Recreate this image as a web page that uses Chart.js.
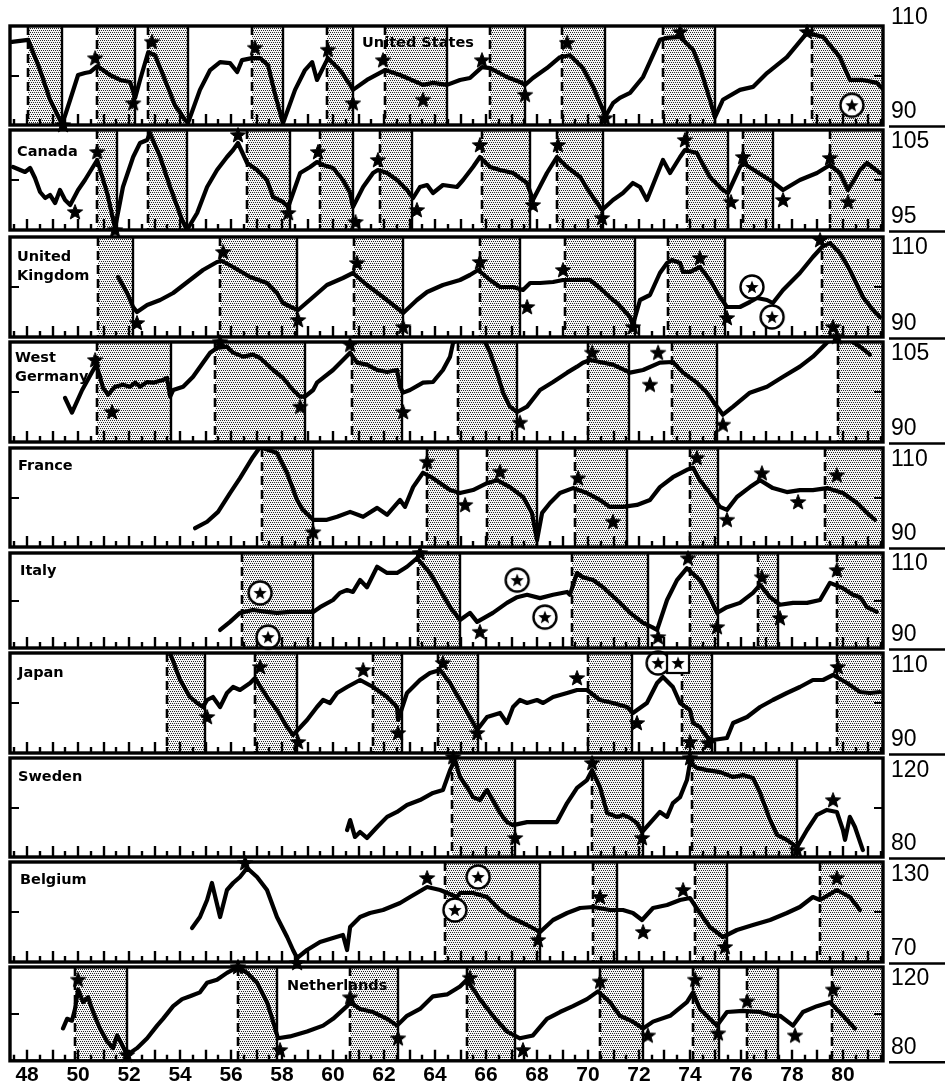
<!DOCTYPE html>
<html><head><meta charset="utf-8">
<script src="https://cdn.jsdelivr.net/npm/chart.js@4.4.1/dist/chart.umd.min.js"></script>
<style>
html,body{margin:0;padding:0;background:#fff;overflow:hidden;width:945px;height:1088px;position:relative}
canvas{position:absolute;left:0}
</style></head><body>
<script>
// ---------------- DATA (year, index value) ----------------
const yearRange = [47.33, 81.57];
const yearStep = 2;

const usRange = [90, 110];
const usLine = [[47.41,106.8],[48.04,107.2],[48.51,101.1],[48.90,95.1],[49.29,91.0],[49.37,90.0],[49.69,95.1],[50.00,100.1],[50.27,100.5],[50.47,100.7],[50.75,101.9],[51.25,100.1],[51.65,99.1],[52.04,98.7],[52.24,95.5],[52.43,99.1],[52.75,104.7],[53.02,104.1],[53.41,99.1],[53.80,94.0],[54.20,91.0],[54.31,90.4],[54.78,97.1],[55.18,101.1],[55.57,102.7],[55.96,102.5],[56.24,100.7],[56.43,103.1],[56.82,103.5],[57.14,103.5],[57.45,102.1],[57.73,96.1],[58.00,91.0],[58.04,90.4],[58.51,97.1],[58.90,101.1],[59.18,102.7],[59.37,99.1],[59.80,103.5],[60.27,101.1],[60.67,98.1],[60.78,97.1],[61.33,99.1],[62.04,101.1],[62.63,100.1],[63.53,98.1],[63.92,98.5],[64.47,98.1],[64.98,99.1],[65.37,99.5],[65.84,101.7],[66.16,101.5],[66.82,99.7],[67.33,98.7],[67.53,98.1],[67.84,99.5],[68.39,101.5],[68.90,103.7],[69.29,104.1],[69.80,101.5],[70.20,97.7],[70.59,93.0],[70.67,91.6],[70.98,94.4],[71.25,95.5],[71.65,96.5],[72.16,99.7],[72.82,107.2],[73.10,107.6],[73.61,107.8],[74.12,105.2],[74.39,101.7],[74.78,95.1],[74.98,91.6],[75.29,95.1],[75.96,97.1],[76.47,97.7],[77.02,100.5],[77.80,103.7],[78.59,108.6],[79.22,107.8],[79.88,103.7],[80.27,99.1],[80.78,99.1],[81.33,98.5],[81.53,97.5]];
const usStars = [[50.67,103.5],[49.41,90.0],[52.16,94.4],[52.90,106.8],[56.94,105.6],[59.80,105.2],[60.78,94.4],[61.96,103.1],[63.53,95.1],[65.84,103.1],[67.53,96.1],[69.18,106.6],[70.67,91.4],[73.61,108.8],[78.59,108.8]];
const usRings = [[80.35,94.0]];
const usShade = [[48.04,49.37],[50.75,52.24],[52.75,54.31],[56.82,58.04],[59.76,60.78],[62.04,64.47],[66.16,67.53],[68.98,70.67],[72.94,74.98],[78.78,82]];

const caRange = [95, 105];
const caLine = [[47.45,101.3],[47.92,100.8],[48.12,101.2],[48.31,100.2],[48.51,98.8],[48.71,98.2],[48.90,98.5],[49.10,97.7],[49.29,99.0],[49.49,98.0],[49.69,97.5],[50.00,99.0],[50.27,100.0],[50.75,102.0],[51.14,98.7],[51.45,95.2],[51.76,99.3],[52.16,102.3],[52.43,103.7],[52.71,104.0],[52.82,104.7],[53.22,102.3],[53.61,99.3],[54.08,96.0],[54.27,95.0],[54.67,96.7],[55.06,99.3],[55.45,101.0],[55.84,102.3],[56.08,103.0],[56.27,103.7],[56.63,101.7],[57.02,101.0],[57.41,100.0],[57.65,98.3],[58.04,97.8],[58.24,97.3],[58.71,100.7],[59.10,101.3],[59.37,101.8],[59.61,101.5],[60.00,101.2],[60.39,100.0],[60.67,98.7],[60.78,97.3],[61.18,99.3],[61.57,100.7],[61.76,101.0],[62.12,100.7],[62.51,100.0],[62.90,99.0],[63.14,98.2],[63.41,99.3],[63.69,99.5],[63.92,98.7],[64.31,99.5],[64.86,99.3],[65.10,100.0],[65.49,101.3],[65.76,102.3],[66.16,101.3],[66.55,101.0],[67.06,100.7],[67.61,99.7],[67.84,98.0],[68.39,100.7],[68.78,102.3],[69.18,101.3],[69.69,100.3],[70.08,98.7],[70.55,97.0],[70.98,98.0],[71.37,98.7],[71.76,99.7],[72.04,99.3],[72.31,98.0],[72.94,102.0],[73.22,100.7],[73.61,102.3],[73.80,103.0],[74.27,102.7],[74.78,100.3],[75.29,99.0],[75.49,98.7],[75.96,101.3],[76.08,101.7],[76.63,100.8],[77.25,99.8],[77.65,99.0],[78.31,100.0],[78.98,100.7],[79.49,101.5],[79.88,100.7],[80.20,99.0],[80.67,101.0],[80.94,101.7],[81.45,100.7]];
const caStars = [[49.88,96.8],[50.75,102.8],[51.45,95.0],[52.82,106.2],[54.27,93.5],[56.27,104.5],[58.24,96.7],[59.41,102.8],[60.88,95.8],[61.76,102.0],[63.29,97.0],[65.76,103.5],[67.84,97.5],[68.82,103.5],[70.55,96.2],[73.80,104.0],[75.61,97.8],[76.08,102.3],[77.65,98.0],[79.49,102.2],[80.20,97.8]];
const caShade = [[50.75,51.53],[52.75,54.27],[56.63,58.31],[59.49,60.78],[61.84,63.10],[65.84,67.73],[68.78,70.59],[73.88,75.49],[76.08,77.25],[79.49,82]];

const ukRange = [90, 110];
const ukLine = [[51.57,102.0],[51.92,98.8],[52.16,96.0],[52.31,95.0],[52.71,96.4],[53.22,97.4],[53.73,98.8],[54.39,101.4],[54.90,103.4],[55.45,105.0],[55.65,105.2],[56.08,104.0],[56.75,102.0],[57.41,100.8],[57.80,98.8],[58.04,96.8],[58.43,95.8],[58.63,95.4],[59.22,98.0],[59.76,100.4],[60.39,101.8],[60.78,102.8],[61.33,100.4],[61.96,98.0],[62.51,95.8],[62.75,94.8],[63.29,97.4],[63.69,99.0],[64.31,100.4],[64.98,101.4],[65.37,102.4],[65.69,103.4],[66.16,101.4],[66.55,100.0],[67.06,100.0],[67.45,99.4],[67.73,100.8],[68.12,100.8],[68.63,101.0],[69.02,101.4],[69.57,101.4],[70.08,101.4],[70.47,99.8],[70.98,97.4],[71.14,96.8],[71.65,94.0],[71.76,92.4],[72.04,97.4],[72.43,98.4],[72.82,102.8],[73.10,104.8],[73.29,105.4],[73.61,104.8],[73.73,103.0],[74.00,103.0],[74.39,104.0],[74.78,101.4],[75.18,98.0],[75.45,96.0],[75.96,96.0],[76.35,97.0],[76.63,97.8],[77.02,97.4],[77.25,96.8],[77.65,99.4],[78.31,102.8],[78.82,106.0],[79.18,108.0],[79.49,108.8],[79.88,106.8],[80.27,103.4],[80.78,98.0],[81.18,95.4],[81.45,94.0]];
const ukStars = [[52.31,92.8],[55.69,107.0],[58.63,93.4],[60.94,104.8],[62.75,92.0],[65.76,105.0],[67.61,96.0],[69.02,103.4],[71.76,92.0],[74.39,105.8],[75.45,93.8],[79.10,109.4],[79.61,92.0]];
const ukRings = [[76.43,100.0],[77.22,94.0]];
const ukShade = [[50.78,52.16],[55.57,58.59],[60.82,62.75],[65.76,67.33],[69.10,71.84],[73.14,75.37],[79.18,82]];

const deRange = [90, 105];
const deLine = [[49.49,96.6],[49.76,94.4],[50.16,97.8],[50.55,100.5],[50.71,101.6],[50.86,99.8],[50.98,98.1],[51.18,97.1],[51.45,98.3],[51.76,98.6],[52.04,98.3],[52.24,98.9],[52.43,98.3],[52.71,99.0],[52.94,98.9],[53.33,99.3],[53.49,99.6],[53.61,96.8],[53.73,97.8],[54.12,98.3],[54.51,99.8],[54.90,101.9],[55.18,103.4],[55.45,104.1],[55.84,104.3],[56.08,103.4],[56.47,102.8],[56.86,103.1],[57.14,102.6],[57.65,100.8],[58.04,99.6],[58.43,97.8],[58.71,96.8],[58.90,96.8],[59.22,97.8],[59.37,98.9],[60.00,100.8],[60.39,102.3],[60.67,103.4],[60.94,101.9],[61.33,101.6],[61.73,100.8],[62.12,100.5],[62.51,100.8],[62.63,98.3],[62.75,97.4],[63.02,97.8],[63.53,98.9],[63.92,99.0],[64.31,100.8],[64.59,102.8],[64.71,104.9],[64.86,105.3],[65.37,105.6],[65.88,105.6],[66.16,103.4],[66.43,100.4],[66.67,97.4],[66.94,95.3],[67.22,94.5],[67.61,95.3],[68.12,97.8],[68.63,99.0],[69.18,100.4],[69.57,101.3],[69.80,101.9],[70.08,102.3],[70.47,102.0],[70.98,101.6],[71.65,100.4],[72.16,100.8],[72.82,101.9],[73.33,102.0],[73.73,100.4],[74.27,98.9],[74.67,97.4],[75.06,95.3],[75.29,94.1],[75.69,95.3],[76.35,97.4],[77.02,98.3],[77.65,99.8],[78.31,101.3],[78.82,102.8],[79.37,104.9],[79.61,105.6],[80.27,105.3],[80.67,104.3],[81.06,103.1]];
const deStars = [[50.67,102.3],[51.33,94.5],[55.57,105.0],[58.71,95.3],[60.67,104.6],[62.75,94.5],[64.78,107.25],[67.33,92.9],[70.16,103.4],[72.43,98.6],[72.75,103.4],[75.29,92.6],[79.76,105.8]];
const deShade = [[50.75,53.65],[55.37,58.90],[60.75,62.71],[64.90,67.22],[70.00,71.61],[73.29,75.06],[79.80,82]];

const frRange = [90, 110];
const frLine = [[54.59,93.8],[55.06,95.1],[55.49,97.1],[55.96,100.9],[56.35,103.9],[56.86,108.2],[57.14,110.2],[57.80,109.0],[58.20,104.9],[58.59,99.5],[58.82,97.5],[59.22,95.5],[59.76,95.5],[60.16,96.1],[60.67,97.1],[61.18,96.1],[61.73,97.9],[62.12,96.5],[62.63,99.5],[62.82,98.1],[63.14,102.1],[63.53,105.0],[63.92,103.9],[64.59,101.5],[64.98,100.9],[65.49,101.5],[66.04,102.9],[66.43,103.5],[66.94,102.1],[67.45,100.1],[67.80,96.9],[68.00,91.4],[68.20,96.9],[68.51,98.9],[68.90,100.9],[69.41,101.9],[69.96,100.9],[70.47,99.5],[70.86,98.1],[71.37,98.1],[71.92,98.5],[72.43,99.5],[72.82,102.1],[73.33,104.1],[73.88,105.6],[74.12,106.0],[74.39,103.5],[74.78,100.9],[75.18,98.1],[75.45,97.5],[75.84,100.1],[76.35,102.1],[76.75,103.5],[77.25,101.9],[77.80,101.1],[78.31,101.5],[78.82,101.5],[79.37,101.9],[80.00,100.9],[80.55,98.9],[80.94,96.9],[81.25,95.5]];
const frStars = [[57.14,111.8],[59.22,93.0],[63.69,107.2],[65.18,98.5],[66.55,105.2],[68.00,88.0],[69.61,103.9],[70.98,95.1],[74.27,108.0],[75.45,95.5],[76.82,104.9],[78.24,99.1],[79.76,104.5]];
const frShade = [[57.22,59.22],[63.69,64.90],[66.04,68.00],[69.49,71.53],[74.00,75.10],[79.29,82]];

const itRange = [90, 110];
const itLine = [[55.57,93.8],[55.96,95.5],[56.35,97.4],[56.86,98.0],[57.41,97.6],[57.80,97.4],[58.31,97.6],[59.22,97.6],[59.49,98.6],[60.00,100.1],[60.27,101.6],[60.55,102.2],[60.78,101.8],[61.06,104.3],[61.33,102.8],[61.73,107.1],[62.12,105.8],[62.51,105.8],[62.90,107.1],[63.29,108.9],[63.80,105.8],[64.20,102.2],[64.59,98.6],[64.98,95.9],[65.37,97.4],[65.65,95.5],[66.27,97.4],[66.82,99.5],[67.22,100.7],[67.61,101.2],[68.12,100.5],[68.63,101.2],[69.18,101.8],[69.29,101.2],[69.57,105.8],[69.80,104.9],[70.20,104.3],[70.59,102.8],[71.14,100.1],[71.65,97.4],[72.16,95.3],[72.51,94.4],[72.71,93.8],[73.10,100.1],[73.49,104.3],[73.88,106.8],[74.39,104.3],[74.78,100.7],[75.06,97.4],[75.45,98.6],[75.96,99.5],[76.47,101.6],[76.75,103.3],[77.14,100.7],[77.53,99.1],[78.04,99.5],[78.59,99.5],[79.10,100.1],[79.49,103.7],[80.00,102.6],[80.39,101.2],[80.67,100.7],[80.94,98.6],[81.33,97.6]];
const itStars = [[63.41,110.0],[65.76,93.4],[72.75,92.3],[73.92,108.9],[75.06,94.4],[76.82,104.9],[77.53,96.3],[79.76,106.4]];
const itRings = [[57.14,101.6],[57.45,92.3],[67.22,104.3],[68.31,96.5]];
const itShade = [[56.43,59.22],[63.33,64.98],[69.37,72.35],[74.00,75.10],[76.67,77.45],[79.76,82]];

const jpRange = [90, 110];
const jpLine = [[53.61,110.0],[54.00,104.6],[54.39,101.2],[54.67,100.0],[54.90,99.2],[55.06,100.6],[55.29,101.2],[55.57,99.2],[55.84,102.0],[56.08,103.2],[56.35,102.6],[56.75,104.0],[56.94,105.0],[57.41,101.2],[57.80,98.6],[58.20,95.2],[58.43,93.6],[58.98,96.6],[59.37,99.2],[59.61,100.6],[59.88,100.0],[60.16,102.0],[60.55,103.2],[61.06,104.6],[61.57,103.2],[62.12,101.2],[62.51,99.2],[62.55,96.6],[62.90,102.0],[63.41,104.6],[63.80,106.0],[64.20,106.6],[64.59,104.0],[64.98,100.6],[65.37,97.2],[65.65,94.6],[66.04,97.2],[66.55,98.0],[66.82,96.0],[67.06,99.2],[67.33,100.6],[67.61,100.0],[68.00,100.6],[68.24,100.0],[68.63,101.2],[69.18,102.0],[69.57,102.6],[69.96,102.6],[70.47,100.6],[70.98,100.0],[71.53,99.2],[71.76,98.0],[72.31,100.0],[72.71,104.0],[72.94,105.2],[73.33,103.2],[73.61,100.0],[74.00,98.6],[74.12,96.0],[74.39,95.2],[74.67,93.2],[74.90,92.6],[75.45,93.0],[75.69,96.0],[76.24,97.2],[76.75,99.2],[77.25,100.6],[77.80,102.0],[78.31,103.2],[78.82,104.6],[79.22,104.6],[79.61,105.6],[80.16,104.0],[80.67,102.2],[81.06,102.0],[81.45,102.2]];
const jpStars = [[55.06,97.2],[57.14,107.2],[58.63,92.2],[61.18,106.6],[62.55,94.0],[64.31,108.0],[65.65,94.0],[69.57,105.0],[71.92,96.0],[74.00,92.2],[74.71,92.0],[79.80,107.2]];
const jpRings = [[72.75,108.0]];
const jpBoxes = [[73.53,108.0]];
const jpShade = [[53.49,54.98],[56.94,58.59],[61.57,62.71],[64.12,65.69],[70.00,71.73],[73.69,74.86],[79.76,82]];

const seRange = [80, 120];
const seLine = [[60.55,90.9],[60.67,94.9],[60.86,88.1],[61.06,90.1],[61.33,87.7],[61.73,92.1],[62.12,96.2],[62.51,98.2],[62.90,101.0],[63.41,103.0],[63.92,105.9],[64.31,107.1],[64.59,115.1],[64.78,119.2],[64.98,112.3],[65.25,108.3],[65.49,104.2],[65.76,103.0],[66.04,107.1],[66.27,103.0],[66.55,97.8],[66.82,94.1],[67.06,92.9],[67.61,94.1],[68.78,94.1],[69.18,101.8],[69.57,107.9],[69.96,111.1],[70.16,115.1],[70.47,108.3],[70.75,97.8],[71.14,96.2],[71.37,97.0],[71.65,95.8],[71.92,93.7],[72.12,90.1],[72.43,93.7],[72.82,98.2],[73.10,96.2],[73.33,101.8],[73.61,104.2],[73.88,111.1],[74.00,118.0],[74.27,116.0],[74.67,115.1],[75.18,114.3],[75.69,112.3],[76.08,113.1],[76.47,111.9],[76.75,105.9],[77.14,95.0],[77.41,88.9],[77.80,86.9],[78.20,84.0],[78.59,90.9],[78.98,97.0],[79.37,99.0],[79.76,98.2],[80.00,90.9],[80.08,86.9],[80.27,96.2],[80.47,92.1],[80.78,82.8]];
const seStars = [[64.71,120.4],[67.14,87.7],[70.16,118.0],[72.12,87.7],[74.00,120.0],[78.20,82.8],[79.61,103.0]];
const seShade = [[64.67,67.14],[70.16,72.16],[74.08,78.20]];

const beRange = [70, 130];
const beLine = [[54.47,90.4],[54.78,97.0],[55.06,107.2],[55.25,117.4],[55.57,97.0],[55.84,113.2],[56.08,117.4],[56.35,121.0],[56.63,126.4],[57.02,121.0],[57.41,113.2],[57.80,97.0],[58.20,85.0],[58.43,77.2],[58.59,72.4],[58.98,77.2],[59.49,82.0],[60.00,84.4],[60.39,86.2],[60.55,77.2],[60.67,91.0],[61.06,97.0],[61.45,99.4],[61.96,101.2],[62.63,105.4],[63.02,109.0],[63.69,115.0],[64.20,113.2],[64.86,109.0],[64.98,111.4],[65.49,111.4],[66.04,109.0],[66.55,101.2],[66.94,97.0],[67.61,92.2],[68.12,88.0],[68.63,95.2],[69.18,99.4],[69.69,102.4],[70.20,103.0],[70.86,101.2],[71.37,101.2],[71.76,99.4],[72.12,95.2],[72.55,102.4],[73.10,104.2],[73.61,107.2],[74.00,108.4],[74.39,99.4],[74.78,91.0],[75.29,85.0],[75.84,89.2],[76.47,92.2],[77.14,95.2],[77.80,99.4],[78.31,103.0],[78.82,109.0],[79.10,107.2],[79.76,113.2],[80.27,109.0],[80.67,101.2]];
const beStars = [[56.55,129.4],[58.59,69.4],[63.69,120.4],[68.04,83.2],[70.47,109.0],[72.16,88.0],[73.73,113.2],[75.37,79.0],[79.76,120.4]];
const beRings = [[64.78,101.2],[65.69,121.0]];
const beShade = [[64.39,68.12],[70.20,71.14],[74.20,75.45],[79.10,82]];

const nlRange = [80, 120];
const nlLine = [[49.41,93.8],[49.57,97.9],[49.76,97.1],[49.88,102.1],[50.00,110.4],[50.20,105.0],[50.39,107.1],[50.59,100.8],[50.86,93.8],[51.14,88.3],[51.37,85.4],[51.53,90.8],[51.73,86.7],[51.92,82.5],[52.31,85.4],[52.71,89.6],[53.10,95.0],[53.33,97.9],[53.73,103.3],[54.08,106.3],[54.39,107.5],[54.78,109.2],[55.06,113.3],[55.45,114.6],[55.84,117.5],[56.27,120.0],[56.63,117.5],[57.02,113.3],[57.41,105.0],[57.65,96.7],[57.84,89.6],[58.31,90.4],[58.98,92.5],[59.61,95.0],[60.00,97.9],[60.55,103.3],[60.67,105.0],[61.06,102.1],[61.57,100.8],[62.12,97.9],[62.51,95.0],[62.90,99.2],[63.41,102.1],[63.92,107.5],[64.47,108.3],[64.98,111.7],[65.25,114.6],[65.76,106.3],[66.27,99.2],[66.82,92.5],[67.33,89.6],[67.84,90.8],[68.39,97.9],[68.90,100.8],[69.41,103.3],[69.96,106.3],[70.39,109.6],[70.86,105.0],[71.25,99.2],[71.76,96.7],[72.16,93.8],[72.55,96.7],[73.22,99.2],[73.88,105.0],[74.12,109.2],[74.39,102.1],[74.78,97.9],[75.06,95.0],[75.45,100.8],[76.08,101.3],[76.75,100.8],[77.25,99.2],[77.53,99.2],[78.04,95.0],[78.43,100.8],[78.98,103.3],[79.49,105.0],[80.00,99.2],[80.47,93.8]];
const nlStars = [[50.00,114.6],[51.92,82.5],[56.27,120.0],[57.92,84.6],[60.67,107.1],[62.55,89.6],[65.37,115.4],[67.45,84.6],[70.47,113.8],[72.35,90.8],[74.20,114.6],[75.10,91.7],[76.24,105.4],[78.12,90.8],[79.61,110.4]];
const nlShade = [[49.88,51.92],[56.27,57.80],[60.67,62.55],[65.25,67.14],[70.47,72.16],[74.12,75.14],[76.24,77.45],[79.57,82]];

// ---------------- LAYOUT / STYLE ----------------
const PAD = 22;
const panels = [
  {label:['United States'], lx:418, ly:43, align:'center', top:26, bottom:125, topLab:-8, range:usRange, line:usLine, stars:usStars, rings:usRings, boxes:[], shade:usShade},
  {label:['Canada'], lx:17, ly:152, align:'left', top:130, bottom:230, topLab:12, range:caRange, line:caLine, stars:caStars, rings:[], boxes:[], shade:caShade},
  {label:['United','Kingdom'], lx:17, ly:257, align:'left', top:237, bottom:337, topLab:11, range:ukRange, line:ukLine, stars:ukStars, rings:ukRings, boxes:[], shade:ukShade},
  {label:['West','Germany'], lx:15, ly:358, align:'left', top:342, bottom:442, topLab:12, range:deRange, line:deLine, stars:deStars, rings:[], boxes:[], shade:deShade},
  {label:['France'], lx:18, ly:466, align:'left', top:448, bottom:547, topLab:12, range:frRange, line:frLine, stars:frStars, rings:[], boxes:[], shade:frShade},
  {label:['Italy'], lx:20, ly:571, align:'left', top:553, bottom:648, topLab:11, range:itRange, line:itLine, stars:itStars, rings:itRings, boxes:[], shade:itShade},
  {label:['Japan'], lx:18, ly:673, align:'left', top:653, bottom:753, topLab:13, range:jpRange, line:jpLine, stars:jpStars, rings:jpRings, boxes:jpBoxes, shade:jpShade},
  {label:['Sweden'], lx:18, ly:777, align:'left', top:758, bottom:857, topLab:13, range:seRange, line:seLine, stars:seStars, rings:[], boxes:[], shade:seShade},
  {label:['Belgium'], lx:20, ly:880, align:'left', top:862, bottom:962, topLab:13, range:beRange, line:beLine, stars:beStars, rings:beRings, boxes:[], shade:beShade},
  {label:['Netherlands'], lx:287, ly:986, align:'left', top:967, bottom:1063, topLab:12, range:nlRange, line:nlLine, stars:nlStars, rings:[], boxes:[], shade:nlShade}
];

// ---------------- GRAPHIC HELPERS ----------------
function starPath(ctx, cx, cy, R, r){
  ctx.beginPath();
  for(let i=0;i<10;i++){
    const a=-Math.PI/2+i*Math.PI/5, rad=(i%2)?r:R;
    ctx.lineTo(cx+rad*Math.cos(a), cy+rad*Math.sin(a));
  }
  ctx.closePath();
}
function mk(w,h,fn){const c=document.createElement('canvas');c.width=w;c.height=h;fn(c.getContext('2d'));return c;}
const starImg = mk(18,18,c=>{starPath(c,9,9.5,8,3.4);c.fillStyle='#000';c.fill();c.lineWidth=1;c.strokeStyle='#000';c.stroke();});
const ringImg = mk(28,28,c=>{c.beginPath();c.arc(14,14,11.5,0,Math.PI*2);c.fillStyle='#fff';c.fill();c.lineWidth=2.4;c.strokeStyle='#000';c.stroke();starPath(c,14,14.5,7,3);c.fillStyle='#000';c.fill();});
const boxImg = mk(26,24,c=>{c.fillStyle='#fff';c.fillRect(2,2,22,20);c.lineWidth=2.2;c.strokeStyle='#000';c.strokeRect(2,2,22,20);starPath(c,13,12.5,7,3);c.fillStyle='#000';c.fill();});
const tile = mk(4,4,c=>{c.fillStyle='#f6f6f6';c.fillRect(0,0,4,4);c.fillStyle='#2a2a2a';[[0,0],[2,0],[1,2],[3,2]].forEach(([x,y])=>c.fillRect(x,y,1,1));});

function makePlugin(p){
  return {
    id:'panel',
    beforeDatasetsDraw(chart){
      const {ctx, chartArea:a, scales:{x,y}} = chart;
      ctx.save();
      ctx.beginPath(); ctx.rect(a.left,a.top,a.right-a.left,a.bottom-a.top); ctx.clip();
      ctx.fillStyle = ctx.createPattern(tile,'repeat');
      p.shade.forEach(([s,e])=>{const x1=x.getPixelForValue(s),x2=x.getPixelForValue(e);ctx.fillRect(x1,a.top,x2-x1,a.bottom-a.top);});
      ctx.strokeStyle='#000'; ctx.lineWidth=2.6;
      p.shade.forEach(([s,e])=>{
        const x1=Math.round(x.getPixelForValue(s));
        ctx.setLineDash([9,5]); ctx.beginPath(); ctx.moveTo(x1,a.top); ctx.lineTo(x1,a.bottom); ctx.stroke();
        if(e<x.max){const x2=Math.round(x.getPixelForValue(e)); ctx.setLineDash([]); ctx.lineWidth=2.4; ctx.beginPath(); ctx.moveTo(x2,a.top); ctx.lineTo(x2,a.bottom); ctx.stroke(); ctx.lineWidth=2.6;}
      });
      ctx.setLineDash([]); ctx.lineWidth=2.4;
      for(let t=47.5;t<x.max;t+=0.5){
        const px=Math.round(x.getPixelForValue(t)), h=Number.isInteger(t)?11:6;
        ctx.beginPath(); ctx.moveTo(px,a.bottom); ctx.lineTo(px,a.bottom-h); ctx.stroke();
      }
      ctx.restore();
    },
    afterDatasetsDraw(chart){
      const {ctx, chartArea:a, scales:{y}} = chart;
      ctx.save();
      ctx.strokeStyle='#000'; ctx.lineWidth=3.4;
      ctx.strokeRect(a.left,a.top,a.right-a.left,a.bottom-a.top);
      const ym=Math.round(y.getPixelForValue((p.range[0]+p.range[1])/2));
      ctx.lineWidth=2.2;
      ctx.beginPath(); ctx.moveTo(a.left,ym); ctx.lineTo(a.left+9,ym); ctx.moveTo(a.right-9,ym); ctx.lineTo(a.right,ym); ctx.stroke();
      // right value labels
      ctx.fillStyle='#000'; ctx.font='23px "Liberation Sans", Arial, sans-serif'; ctx.textAlign='left'; ctx.textBaseline='middle';
      ctx.fillText(String(p.range[1]), 891, y.getPixelForValue(p.range[1])+p.topLab);
      ctx.fillText(String(p.range[0]), 891, y.getPixelForValue(p.range[0])-13);
      ctx.lineWidth=2.4;
      ctx.beginPath(); ctx.moveTo(889,a.bottom+1.5); ctx.lineTo(945,a.bottom+1.5); ctx.stroke();
      // country label
      ctx.font='bold 14.5px "DejaVu Sans", Arial, sans-serif'; ctx.textAlign=p.align;
      p.label.forEach((s,i)=>ctx.fillText(s, p.lx, a.top+(p.ly-p.top)+i*19));
      ctx.restore();
    }
  };
}

const pts = arr => arr.map(([x,y])=>({x,y}));

panels.forEach((p,i)=>{
  const last = i===panels.length-1;
  const cv=document.createElement('canvas');
  const top=p.top-PAD;
  const h= last ? 145 : (p.bottom-p.top+2*PAD);
  cv.width=945; cv.height=h; cv.style.top=top+'px'; cv.style.width='945px'; cv.style.height=h+'px';
  document.body.appendChild(cv);
  new Chart(cv,{
    type:'line',
    data:{datasets:[
      {type:'scatter', data:pts(p.boxes), pointStyle:boxImg, pointRadius:8, clip:false, order:0},
      {type:'scatter', data:pts(p.rings), pointStyle:ringImg, pointRadius:8, clip:false, order:0},
      {type:'scatter', data:pts(p.stars), pointStyle:starImg, pointRadius:7, clip:false, order:0},
      {type:'line', data:pts(p.line), borderColor:'#000', borderWidth:4.2, pointRadius:0, tension:0, borderJoinStyle:'round', borderCapStyle:'round', order:1}
    ]},
    options:{
      responsive:false, animation:false, devicePixelRatio:1, events:[],
      layout:{padding:{left:10,right:62,top:PAD,bottom:last?0:PAD}},
      plugins:{legend:{display:false}, tooltip:{enabled:false}},
      scales:{
        x:{type:'linear', min:yearRange[0], max:yearRange[1], display:last,
           grid:{display:false, drawTicks:false}, border:{display:false},
           ticks:{stepSize:yearStep, includeBounds:false, autoSkip:false, maxRotation:0, padding:2, color:'#000',
                  font:{family:'"Liberation Sans", Arial, sans-serif', size:21, weight:'bold'},
                  callback:v=>String(v)}},
        y:{type:'linear', min:p.range[0], max:p.range[1], display:false}
      }
    },
    plugins:[makePlugin(p)]
  });
});
</script>
</body></html>
